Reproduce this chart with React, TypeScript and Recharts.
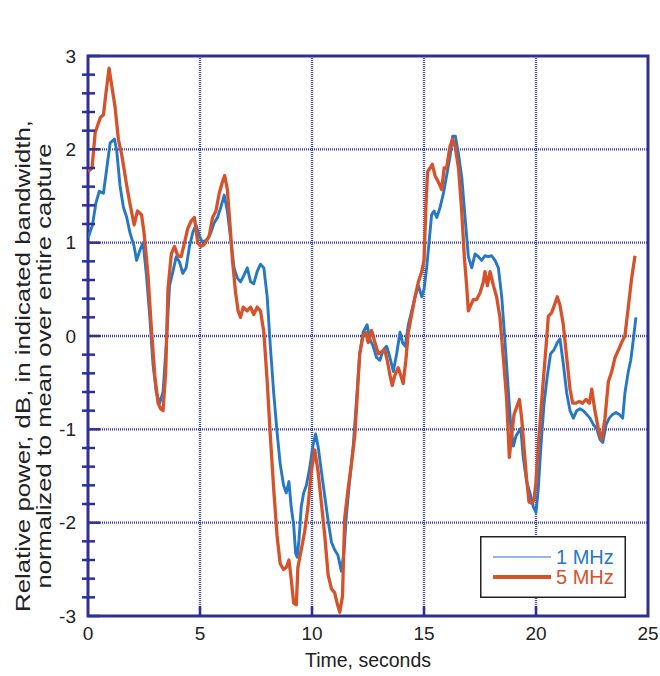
import React from 'react';
import { LineChart, Line, XAxis, YAxis, CartesianGrid, ReferenceArea, Legend } from 'recharts';

// 1 MHz trace (seconds, dB)
const blueTime = [
  0, 0.2, 0.35, 0.5, 0.69, 0.84, 0.99, 1.18, 1.28, 1.43, 1.58, 1.73, 1.87, 2.06, 2.17, 2.32, 2.46, 2.61, 2.76, 2.9,
  3.05, 3.2, 3.35, 3.5, 3.64, 3.79, 3.94, 4.09, 4.23, 4.38, 4.53, 4.68, 4.82, 4.97, 5.12, 5.34, 5.49, 5.63, 5.78, 5.93,
  6.08, 6.22, 6.37, 6.52, 6.67, 6.81, 6.96, 7.11, 7.26, 7.4, 7.55, 7.7, 7.85, 8.0, 8.14, 8.29, 8.44, 8.58, 8.73, 8.85,
  8.97, 9.07, 9.18, 9.27, 9.34, 9.42, 9.52, 9.63, 9.75, 9.9, 10.04, 10.16, 10.27, 10.42, 10.57, 10.72, 10.87, 11.01, 11.16, 11.31,
  11.42, 11.54, 11.69, 11.84, 11.99, 12.13, 12.28, 12.46, 12.58, 12.73, 12.88, 13.03, 13.18, 13.33, 13.48, 13.63, 13.78, 13.93, 14.04, 14.16,
  14.3, 14.45, 14.6, 14.75, 14.9, 15.0, 15.12, 15.24, 15.34, 15.45, 15.57, 15.72, 15.87, 16.01, 16.16, 16.28, 16.4, 16.54, 16.69, 16.84,
  16.98, 17.13, 17.28, 17.43, 17.57, 17.72, 17.87, 18.02, 18.17, 18.32, 18.47, 18.62, 18.76, 18.87, 18.99, 19.11, 19.21, 19.32, 19.43, 19.58,
  19.73, 19.88, 20.0, 20.1, 20.22, 20.36, 20.51, 20.65, 20.8, 20.95, 21.07, 21.22, 21.37, 21.52, 21.67, 21.82, 21.96, 22.11, 22.26, 22.41,
  22.56, 22.71, 22.86, 22.98, 23.13, 23.27, 23.42, 23.57, 23.72, 23.87, 23.97, 24.12, 24.23, 24.35, 24.46,
];
const blueValue = [
  1.05, 1.19, 1.42, 1.55, 1.53, 1.8, 2.07, 2.11, 1.99, 1.61, 1.38, 1.27, 1.11, 0.96, 0.81, 0.92, 1.0, 0.65, 0.2, -0.3,
  -0.61, -0.72, -0.6, -0.07, 0.54, 0.69, 0.85, 0.79, 0.67, 0.73, 0.96, 1.11, 1.19, 1.07, 1.0, 1.04, 1.11, 1.21, 1.27, 1.38,
  1.51, 1.34, 1.04, 0.73, 0.62, 0.58, 0.65, 0.73, 0.58, 0.56, 0.69, 0.77, 0.73, 0.42, -0.11, -0.61, -1.03, -1.37, -1.6, -1.68,
  -1.56, -1.83, -2.02, -2.33, -2.37, -2.18, -1.83, -1.68, -1.6, -1.41, -1.18, -1.05, -1.18, -1.45, -1.72, -1.98, -2.21, -2.29, -2.35, -2.52,
  -2.33, -1.91, -1.53, -1.18, -0.68, -0.19, 0.04, 0.12, -0.03, -0.11, -0.23, -0.26, -0.15, -0.11, -0.23, -0.38, -0.19, 0.04, -0.07, -0.11,
  0.12, 0.27, 0.42, 0.54, 0.42, 0.5, 0.73, 1.04, 1.3, 1.34, 1.27, 1.38, 1.53, 1.72, 1.92, 2.14, 2.14, 1.95, 1.69, 1.25,
  0.85, 0.73, 0.88, 0.85, 0.81, 0.86, 0.85, 0.86, 0.81, 0.73, 0.42, -0.07, -0.57, -0.95, -1.18, -1.07, -1.03, -0.99, -1.3, -1.56,
  -1.68, -1.83, -1.89, -1.64, -1.18, -0.72, -0.42, -0.19, -0.15, -0.07, -0.03, -0.3, -0.61, -0.8, -0.88, -0.8, -0.78, -0.8, -0.84, -0.88,
  -0.95, -0.99, -1.11, -1.14, -0.95, -0.88, -0.84, -0.82, -0.84, -0.88, -0.61, -0.38, -0.26, -0.03, 0.2,
];

// 5 MHz trace (seconds, dB)
const redTime = [
  0, 0.18, 0.32, 0.55, 0.69, 0.8, 0.94, 1.06, 1.21, 1.36, 1.5, 1.73, 1.87, 2.06, 2.21, 2.39, 2.5, 2.68, 2.83, 2.98,
  3.13, 3.24, 3.35, 3.47, 3.57, 3.72, 3.86, 4.01, 4.16, 4.31, 4.45, 4.6, 4.75, 4.9, 5.04, 5.19, 5.41, 5.56, 5.71, 5.86,
  6.0, 6.1, 6.22, 6.34, 6.45, 6.59, 6.7, 6.81, 6.93, 7.1, 7.26, 7.4, 7.55, 7.7, 7.85, 8.0, 8.14, 8.29, 8.44, 8.58,
  8.73, 8.85, 8.97, 9.07, 9.18, 9.3, 9.37, 9.52, 9.67, 9.82, 9.97, 10.12, 10.27, 10.42, 10.57, 10.72, 10.87, 11.01, 11.12, 11.24,
  11.36, 11.46, 11.61, 11.76, 11.91, 12.01, 12.13, 12.28, 12.4, 12.51, 12.66, 12.81, 12.96, 13.1, 13.25, 13.36, 13.48, 13.58, 13.7, 13.85,
  13.96, 14.07, 14.19, 14.3, 14.45, 14.6, 14.75, 14.9, 15.0, 15.09, 15.16, 15.27, 15.37, 15.49, 15.64, 15.79, 15.9, 16.01, 16.16, 16.28,
  16.39, 16.54, 16.68, 16.8, 16.9, 16.98, 17.05, 17.2, 17.35, 17.5, 17.65, 17.72, 17.83, 17.95, 18.1, 18.24, 18.39, 18.54, 18.69, 18.81,
  18.91, 19.02, 19.14, 19.26, 19.36, 19.46, 19.58, 19.69, 19.81, 19.91, 20.0, 20.1, 20.21, 20.33, 20.45, 20.55, 20.7, 20.85, 20.95, 21.07,
  21.22, 21.37, 21.52, 21.64, 21.79, 21.93, 22.08, 22.23, 22.38, 22.49, 22.63, 22.78, 22.93, 23.08, 23.23, 23.38, 23.53, 23.68, 23.82, 23.97,
  24.12, 24.27, 24.42,
];
const redValue = [
  1.76, 1.8, 2.18, 2.34, 2.37, 2.6, 2.87, 2.68, 2.45, 2.1, 1.95, 1.61, 1.42, 1.19, 1.34, 1.3, 1.11, 0.65, 0.08, -0.42,
  -0.72, -0.78, -0.8, -0.38, 0.5, 0.88, 0.96, 0.86, 0.85, 1.0, 1.15, 1.23, 1.27, 1.0, 0.96, 0.98, 1.07, 1.27, 1.34, 1.53,
  1.65, 1.72, 1.57, 1.19, 0.81, 0.46, 0.27, 0.2, 0.31, 0.27, 0.31, 0.23, 0.31, 0.27, 0.04, -0.49, -1.07, -1.64, -2.14, -2.44,
  -2.5, -2.48, -2.4, -2.6, -2.86, -2.88, -2.48, -2.29, -2.1, -1.83, -1.45, -1.22, -1.45, -1.79, -2.14, -2.56, -2.71, -2.75, -2.86, -2.96,
  -2.79, -1.95, -1.64, -1.37, -1.07, -0.68, -0.19, 0.0, 0.04, -0.07, 0.06, -0.07, -0.19, -0.17, -0.15, -0.26, -0.42, -0.53, -0.42, -0.34,
  -0.42, -0.51, -0.26, 0.04, 0.23, 0.42, 0.58, 0.69, 0.81, 1.42, 1.76, 1.8, 1.84, 1.72, 1.65, 1.57, 1.8, 1.8, 2.03, 2.11,
  2.03, 1.8, 1.35, 0.85, 0.55, 0.27, 0.31, 0.39, 0.39, 0.46, 0.58, 0.69, 0.54, 0.69, 0.54, 0.42, 0.2, -0.23, -0.68, -1.3,
  -1.07, -0.84, -0.76, -0.68, -0.88, -1.18, -1.53, -1.78, -1.79, -1.76, -1.56, -1.18, -0.84, -0.46, -0.11, 0.21, 0.25, 0.35, 0.42, 0.33,
  0.12, -0.23, -0.57, -0.72, -0.72, -0.7, -0.72, -0.68, -0.72, -0.57, -0.8, -0.99, -1.11, -0.88, -0.49, -0.38, -0.23, -0.15, -0.07, 0.0,
  0.31, 0.62, 0.86,
];

const xTicks = [0, 5, 10, 15, 20, 25];
const yTicks = [
  -3, -2.8, -2.6, -2.4, -2.2, -2, -1.8, -1.6, -1.4, -1.2, -1, -0.8, -0.6, -0.4, -0.2, 0,
  0.2, 0.4, 0.6, 0.8, 1, 1.2, 1.4, 1.6, 1.8, 2, 2.2, 2.4, 2.6, 2.8, 3,
];
const gridX = [5, 10, 15, 20];
const gridY = [-2, -1, 0, 1, 2];

const NAVY = '#2e3192';
const GRID = '#4346a0';
const BLUE = '#2678c6';
const RED = '#d6522b';
const TEXT = '#222';
const FONT = '"Liberation Sans", Arial, Helvetica, sans-serif';

const blueData = blueTime.map((t, i) => ({ t, v: blueValue[i] }));
const redData = redTime.map((t, i) => ({ t, v: redValue[i] }));

const isMajor = (v: number) => Math.abs(v - Math.round(v)) < 1e-6;

function LeftTick(props: any) {
  const { x, y, payload } = props;
  const major = isMajor(payload.value);
  return (
    <g>
      <line x1={major ? x : x - 6} x2={major ? x + 12 : x + 7} y1={y} y2={y} stroke={NAVY} strokeWidth={2.5} />
      {major && (
        <text x={x - 12} y={y} textAnchor="end" dominantBaseline="central" fontSize={19} fill={TEXT} fontFamily={FONT}>
          {Math.round(payload.value)}
        </text>
      )}
    </g>
  );
}

function RightTick(props: any) {
  const { x, y, payload } = props;
  const major = isMajor(payload.value);
  return <line x1={major ? x - 12 : x - 8} x2={major ? x : x + 7} y1={y} y2={y} stroke={NAVY} strokeWidth={2.5} />;
}

function BottomTick(props: any) {
  const { x, y, payload } = props;
  const inner = payload.value > 0 && payload.value < 25;
  return (
    <g>
      {inner && <line x1={x} x2={x} y1={y - 10} y2={y} stroke={NAVY} strokeWidth={2.5} />}
      <text x={x} y={y + 17} textAnchor="middle" dominantBaseline="central" fontSize={19} fill={TEXT} fontFamily={FONT}>
        {payload.value}
      </text>
    </g>
  );
}

function TopTick(props: any) {
  const { x, y, payload } = props;
  if (payload.value <= 0 || payload.value >= 25) return <g />;
  return <line x1={x} x2={x} y1={y} y2={y + 10} stroke={NAVY} strokeWidth={2.5} />;
}

function YTitle(props: any) {
  const vb = props.viewBox || { x: 0, y: 56, width: 88, height: 560 };
  const cy = vb.y + vb.height / 2 + 30;
  return (
    <g fontFamily={FONT} fontSize={21} fill={TEXT}>
      <text x={22} y={cy} transform={`rotate(-90 22 ${cy})`} textAnchor="middle" dominantBaseline="central"
        textLength={492} lengthAdjust="spacingAndGlyphs">
        Relative power, dB, in indicated bandwidth,
      </text>
      <text x={43} y={cy} transform={`rotate(-90 43 ${cy})`} textAnchor="middle" dominantBaseline="central"
        textLength={445} lengthAdjust="spacingAndGlyphs">
        normalized to mean over entire capture
      </text>
    </g>
  );
}

function XTitle(props: any) {
  const vb = props.viewBox || { x: 88, y: 616, width: 560, height: 60 };
  return (
    <text x={vb.x + vb.width / 2} y={660} textAnchor="middle" dominantBaseline="central" fontSize={19.5} fill={TEXT} fontFamily={FONT}>
      Time, seconds
    </text>
  );
}

function Title(props: any) {
  const vb = props.viewBox || { x: 88, y: 56, width: 560, height: 0 };
  return (
    <text x={vb.x + vb.width / 2} y={18} textAnchor="middle" dominantBaseline="central" fontSize={16} fontWeight="bold" fill={TEXT} fontFamily={FONT}>
      was_32_48
    </text>
  );
}

function LegendBox(props: any) {
  const items = props.payload || [];
  return (
    <svg width={146} height={62} style={{ display: 'block' }}>
      <rect x={0.75} y={0.75} width={144.5} height={60.5} fill="#fff" stroke={TEXT} strokeWidth={1.5} />
      {items.map((item: any, i: number) => {
        const y = 21 + i * 20;
        return (
          <g key={item.value}>
            <line x1={13} x2={71} y1={y} y2={y} stroke={item.color} strokeWidth={i === 0 ? 1.2 : 4} />
            <text x={76} y={y} dominantBaseline="central" fontSize={20} fill={item.color} fontFamily={FONT}>
              {item.value}
            </text>
          </g>
        );
      })}
    </svg>
  );
}

export default function App() {
  return (
    <div style={{ position: 'absolute', left: 0, top: 0, width: 660, height: 676, background: '#fff' }}>
      <LineChart width={660} height={676} margin={{ top: 56, right: 12, bottom: 0, left: 0 }}>
        <CartesianGrid
          horizontalValues={gridY}
          verticalValues={gridX}
          stroke={GRID}
          strokeWidth={2.4}
          strokeDasharray="1 1"
        />
        <XAxis
          dataKey="t"
          type="number"
          domain={[0, 25]}
          ticks={xTicks}
          interval={0}
          height={60}
          axisLine={false}
          tickLine={false}
          tickSize={0}
          tickMargin={0}
          tick={BottomTick}
          allowDataOverflow
          label={{ content: XTitle }}
        />
        <XAxis
          xAxisId="top"
          orientation="top"
          dataKey="t"
          type="number"
          domain={[0, 25]}
          ticks={xTicks}
          interval={0}
          height={0}
          axisLine={false}
          tickLine={false}
          tickSize={0}
          tickMargin={0}
          tick={TopTick}
          label={{ content: Title }}
        />
        <YAxis
          type="number"
          domain={[-3, 3]}
          ticks={yTicks}
          interval={0}
          width={88}
          axisLine={false}
          tickLine={false}
          tickSize={0}
          tickMargin={0}
          tick={LeftTick}
          allowDataOverflow
          label={{ content: YTitle }}
        />
        <YAxis
          yAxisId="right"
          orientation="right"
          type="number"
          domain={[-3, 3]}
          ticks={yTicks}
          interval={0}
          width={0}
          axisLine={false}
          tickLine={false}
          tickSize={0}
          tickMargin={0}
          tick={RightTick}
        />
        <Line
          data={blueData}
          dataKey="v"
          name="1 MHz"
          type="linear"
          stroke={BLUE}
          strokeWidth={2.9}
          strokeLinejoin="round"
          dot={false}
          isAnimationActive={false}
        />
        <Line
          data={redData}
          dataKey="v"
          name="5 MHz"
          type="linear"
          stroke={RED}
          strokeWidth={3.3}
          strokeLinejoin="round"
          dot={false}
          isAnimationActive={false}
        />
        <ReferenceArea x1={0} x2={25} y1={-3} y2={3} fill="none" stroke={NAVY} strokeWidth={3} ifOverflow="visible" />
        <Legend
          layout="horizontal"
          verticalAlign="middle"
          align="center"
          content={LegendBox}
          wrapperStyle={{ left: 480, top: 536, width: 146, height: 62 }}
        />
      </LineChart>
    </div>
  );
}
